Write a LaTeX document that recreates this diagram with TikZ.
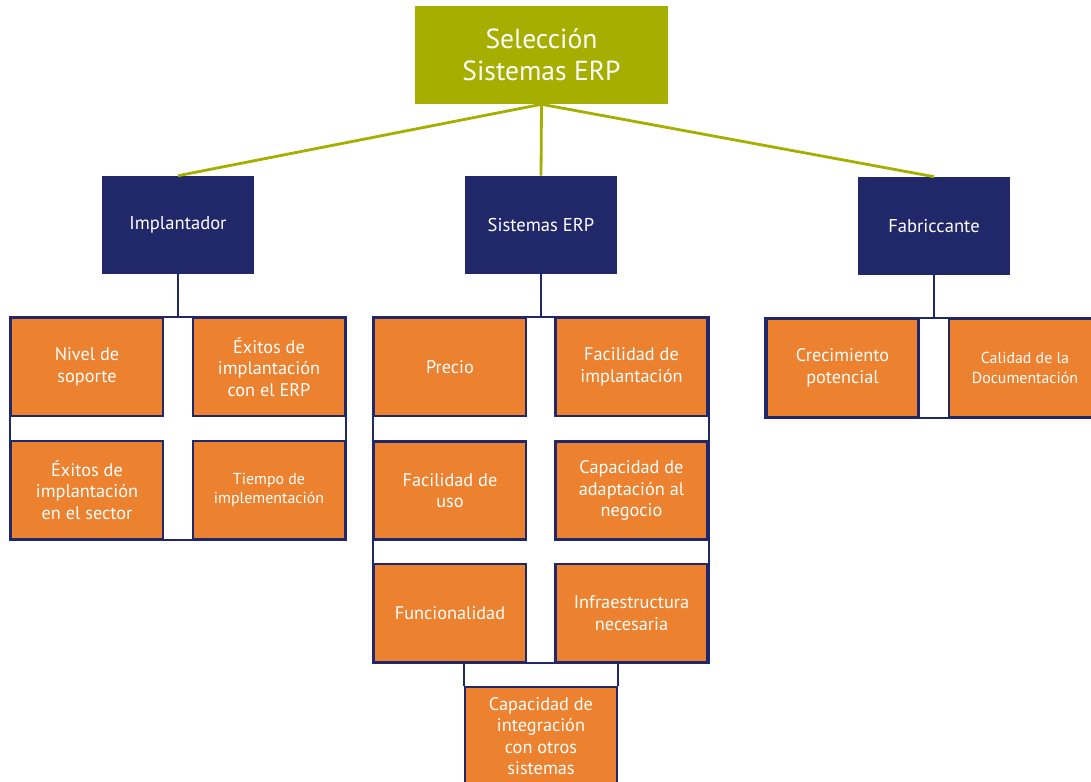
\documentclass[tikz,border=0pt]{standalone}
\usepackage{fontspec}
\setmainfont{PT Sans}
\usepackage{tikz}
\usetikzlibrary{positioning,calc}

\definecolor{erpgreen}{HTML}{A6AE00}
\definecolor{erpnavy}{HTML}{21286A}
\definecolor{erporange}{HTML}{EC812F}

\begin{document}
\begin{tikzpicture}[x=0.025cm, y=-0.025cm,
    titlebox/.style={fill=erpgreen, text=white, minimum width=6.325cm, minimum height=2.45cm,
      align=center, font=\fontsize{19.6}{22.5}\selectfont},
    groupbox/.style={fill=erpnavy, text=white, minimum width=3.8cm, minimum height=2.45cm,
      align=center, font=\fontsize{13.2}{15}\selectfont},
    itembox/.style={fill=erporange, draw=erpnavy, line width=2pt, text=white,
      minimum width=3.8cm, minimum height=2.45cm, align=center, font=\fontsize{13}{15.3}\selectfont},
    smalltext/.style={font=\fontsize{11.3}{13.8}\selectfont},
    greenline/.style={draw=erpgreen, line width=2pt},
    navyline/.style={draw=erpnavy, line width=1.5pt}]
  \path[use as bounding box, clip] (0, 0) rectangle (1091, 782);

  \node[titlebox] (sel) at (541.5, 55) {Selección\\Sistemas ERP};

  \node[groupbox] (impl) at (178, 225) {Implantador};
  \node[groupbox] (sist) at (541, 225) {Sistemas ERP};
  \node[groupbox] (fabr) at (934, 226) {Fabriccante};

  \draw[greenline] (sel.south) -- (impl.north);
  \draw[greenline] (sel.south) -- (sist.north);
  \draw[greenline] (sel.south) -- (fabr.north);

  % implantador
  \node[itembox] (nivel) at (87, 367) {Nivel de\\soporte};
  \node[itembox] (exerp) at (269, 367) {Éxitos de\\implantación\\con el ERP};
  \node[itembox] (exsec) at (87, 490) {Éxitos de\\implantación\\en el sector};
  \node[itembox, smalltext] (tiempo) at (269, 490) {Tiempo de\\implementación};
  \draw[navyline] (nivel.north west) rectangle (tiempo.south east);
  \draw[navyline] (impl.south) -- (impl.south |- nivel.north);

  % sistemas erp
  \node[itembox] (precio) at (450, 367) {Precio};
  \node[itembox] (facimpl) at (631.5, 367) {Facilidad de\\implantación};
  \node[itembox] (facuso) at (450, 490.5) {Facilidad de\\uso};
  \node[itembox] (adapt) at (631.5, 490.5) {Capacidad de\\adaptación al\\negocio};
  \node[itembox] (func) at (450, 613) {Funcionalidad};
  \node[itembox] (infra) at (631.5, 613) {Infraestructura\\necesaria};
  \node[itembox] (integ) at (541, 736) {Capacidad de\\integración\\con otros\\sistemas};
  \draw[navyline] (precio.north west) rectangle (infra.south east);
  \draw[navyline] (integ.north west) -- (integ.north west |- func.south);
  \draw[navyline] (integ.north east) -- (integ.north east |- infra.south);
  \draw[navyline] (sist.south) -- (sist.south |- precio.north);

  % fabricante
  \node[itembox] (crec) at (842.5, 368) {Crecimiento\\potencial};
  \node[itembox, smalltext] (calidad) at (1025, 368) {Calidad de la\\Documentación};
  \draw[navyline] (crec.north west) rectangle (calidad.south east);
  \draw[navyline] (fabr.south) -- (fabr.south |- crec.north);
\end{tikzpicture}
\end{document}
